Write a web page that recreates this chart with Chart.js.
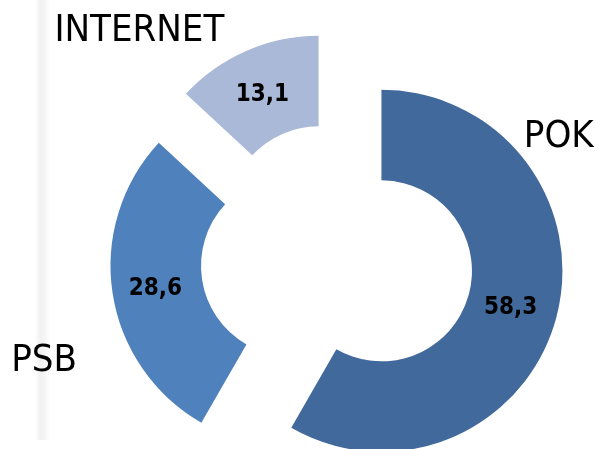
<!DOCTYPE html>
<html>
<head>
<meta charset="utf-8">
<script src="https://cdn.jsdelivr.net/npm/chart.js@4"></script>
<style>
  html, body { margin: 0; padding: 0; background: #fff; }
  .wrap { position: relative; width: 596px; height: 449px; }
  .strip { position: absolute; left: 35px; top: 0; width: 15px; height: 440px;
    background: linear-gradient(to right, #fff, #f1f1f1 35%, #f5f5f5 65%, #fff); }
  canvas { position: absolute; left: 0; top: 0; }
</style>
</head>
<body>
<div class="wrap">
  <div class="strip"></div>
  <canvas id="chart-pie" width="596" height="449"></canvas>
</div>
<script>
//data of the chart
const labels = ['POK', 'PSB', 'INTERNET'];
const values = [58.3, 28.6, 13.1];
const colors = ['#41699b', '#4f81bd', '#a9b9d7'];
//exploded slices, in pixels
const explode = [46, 46, 46];
//where the names go: angle (deg, from the top) and distance from the slice center
const nameAngle = [53, 249, 316];
const nameDist = [222, 265, 258];

//moves every slice out along its middle angle
const explodePlugin = {
  id: 'explode',
  afterDatasetUpdate(chart, args) {
    args.meta.data.forEach(function (arc, i) {
      let mid = (arc.startAngle + arc.endAngle) / 2;
      arc.x += Math.cos(mid) * explode[i];
      arc.y += Math.sin(mid) * explode[i];
    });
  }
};

//values inside the slices and names outside
const labelPlugin = {
  id: 'labels',
  afterDatasetsDraw(chart) {
    let ctx = chart.ctx;
    let meta = chart.getDatasetMeta(0);
    ctx.save();
    ctx.textAlign = 'center';
    ctx.textBaseline = 'middle';
    ctx.fillStyle = '#000';
    meta.data.forEach(function (arc, i) {
      let p = arc.getCenterPoint();
      ctx.font = 'bold 24px "DejaVu Sans Condensed", "DejaVu Sans"';
      ctx.fillText(values[i].toFixed(1).replace('.', ','), p.x - 2, p.y + 2);
      let a = (nameAngle[i] - 90) * Math.PI / 180;
      ctx.font = '38px "DejaVu Sans Condensed", "DejaVu Sans"';
      ctx.fillText(labels[i], arc.x + Math.cos(a) * nameDist[i], arc.y + Math.sin(a) * nameDist[i]);
    });
    ctx.restore();
  }
};

let chartPie = document.getElementById('chart-pie').getContext('2d');
const chart1 = new Chart(chartPie, {
  type: 'doughnut',
  data: {
    labels: labels,
    datasets: [{
      data: values,
      backgroundColor: colors,
      borderWidth: 0,
      hoverOffset: 0
    }]
  },
  options: {
    responsive: false,
    animation: false,
    cutout: '50%',
    radius: 181,
    layout: {
      padding: { left: 78, right: 0, top: 69, bottom: 0 }
    },
    plugins: {
      legend: { display: false },
      tooltip: { enabled: false }
    }
  },
  plugins: [explodePlugin, labelPlugin]
});
</script>
</body>
</html>
